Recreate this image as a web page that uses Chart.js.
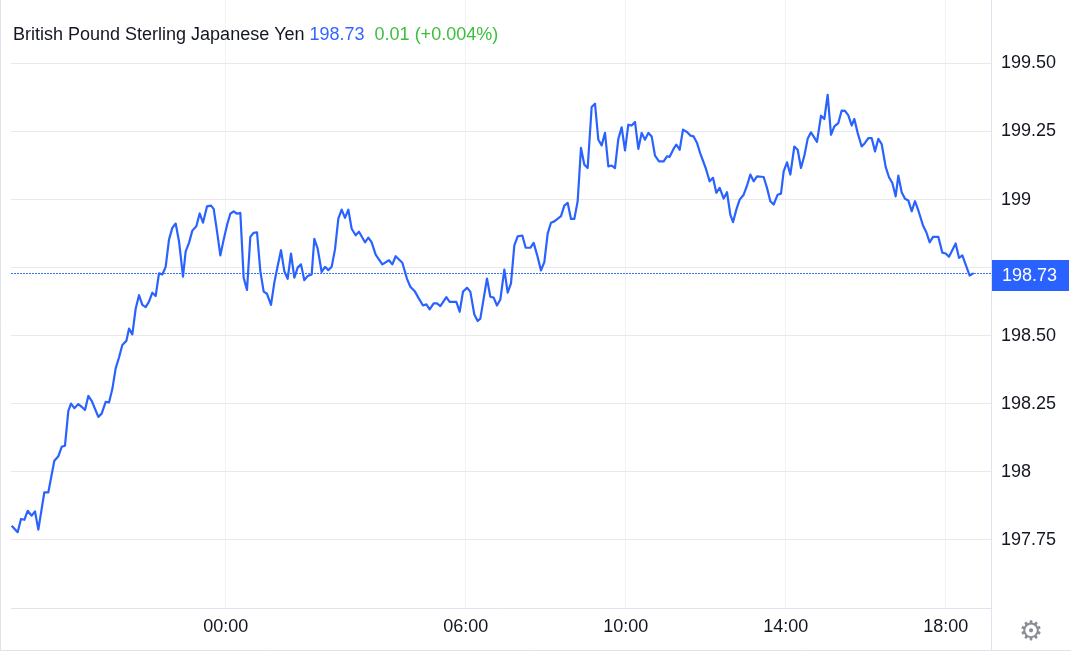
<!DOCTYPE html>
<html lang="en">
<head>
  <meta charset="UTF-8">
  <title>GBP/JPY</title>
  <script src="https://cdn.jsdelivr.net/npm/chart.js"></script>
  <style>
    html, body { margin: 0; padding: 0; background: #fff; }
    #wrap { position: relative; width: 1071px; height: 652px; }
  </style>
</head>
<body>
  <div id="wrap"><canvas id="fxChart" width="1071" height="652"></canvas></div>

  <script>
    // minutes relative to 00:00 (negative = previous evening)
    const minutes = [
      -321, -312, -307, -302, -297, -291, -286, -281, -272, -266,
      -257, -251, -246, -241, -236, -232, -227, -221, -216, -211,
      -206, -201, -191, -186, -180, -175, -170, -165, -160, -155,
      -149, -145, -140, -135, -130, -125, -120, -115, -110, -105,
      -100, -95, -90, -85, -80, -75, -70, -64, -60, -55,
      -50, -44, -39, -34, -28, -22, -18, -13, -8, -3,
      2, 7, 12, 17, 22, 27, 32, 37, 42, 47,
      52, 57, 62, 68, 73, 78, 83, 88, 93, 98,
      103, 108, 113, 118, 123, 129, 133, 138, 144, 149,
      154, 159, 164, 169, 174, 179, 184, 189, 195, 200,
      209, 214, 219, 225, 235, 245, 250, 255, 265, 272,
      277, 284, 289, 296, 301, 306, 312, 317, 322, 331,
      336, 346, 351, 356, 362, 367, 373, 378, 382, 392,
      397, 402, 407, 412, 418, 423, 428, 433, 438, 445,
      450, 457, 462, 467, 473, 478, 483, 488, 493, 503,
      508, 513, 518, 523, 528, 533, 538, 543, 549, 554,
      559, 564, 569, 574, 579, 584, 589, 594, 599, 604,
      609, 614, 619, 624, 629, 634, 639, 644, 650, 657,
      662, 666, 672, 676, 681, 686, 692, 697, 702, 707,
      712, 720, 726, 731, 736, 741, 747, 752, 757, 761,
      766, 771, 777, 782, 787, 792, 797, 807, 812, 817,
      822, 828, 833, 837, 842, 847, 853, 858, 863, 868,
      873, 878, 887, 893, 898, 903, 908, 913, 919, 924,
      929, 934, 939, 943, 948, 954, 959, 964, 969, 974,
      979, 984, 990, 995, 1000, 1005, 1009, 1014, 1019, 1024,
      1029, 1034, 1039, 1046, 1051, 1056, 1061, 1069, 1075, 1080,
      1085, 1095, 1100, 1105, 1116, 1122
    ];

    const prices = [
      197.802, 197.778, 197.827, 197.824, 197.857, 197.839, 197.855, 197.788, 197.925, 197.925,
      198.041, 198.057, 198.092, 198.096, 198.224, 198.251, 198.234, 198.249, 198.239, 198.227,
      198.279, 198.261, 198.202, 198.214, 198.257, 198.255, 198.304, 198.380, 198.420, 198.466,
      198.481, 198.526, 198.505, 198.599, 198.649, 198.613, 198.605, 198.625, 198.658, 198.646,
      198.729, 198.725, 198.753, 198.853, 198.896, 198.912, 198.847, 198.717, 198.810, 198.841,
      198.886, 198.902, 198.949, 198.915, 198.975, 198.978, 198.966, 198.884, 198.795, 198.853,
      198.906, 198.948, 198.957, 198.948, 198.951, 198.713, 198.668, 198.863, 198.878, 198.880,
      198.737, 198.662, 198.654, 198.613, 198.695, 198.756, 198.814, 198.737, 198.709, 198.802,
      198.713, 198.750, 198.762, 198.704, 198.719, 198.725, 198.856, 198.820, 198.734, 198.753,
      198.741, 198.753, 198.817, 198.930, 198.963, 198.933, 198.963, 198.893, 198.869, 198.882,
      198.843, 198.860, 198.843, 198.798, 198.762, 198.777, 198.762, 198.792, 198.768, 198.709,
      198.680, 198.662, 198.640, 198.611, 198.615, 198.597, 198.619, 198.619, 198.609, 198.642,
      198.624, 198.624, 198.588, 198.662, 198.676, 198.662, 198.578, 198.554, 198.563, 198.710,
      198.643, 198.640, 198.611, 198.633, 198.743, 198.658, 198.692, 198.832, 198.865, 198.868,
      198.823, 198.823, 198.841, 198.798, 198.740, 198.770, 198.875, 198.915, 198.920, 198.939,
      198.978, 198.988, 198.929, 198.929, 198.994, 199.190, 199.128, 199.116, 199.340, 199.352,
      199.220, 199.199, 199.245, 199.122, 199.125, 199.116, 199.223, 199.265, 199.181, 199.275,
      199.272, 199.285, 199.186, 199.245, 199.220, 199.245, 199.232, 199.161, 199.140, 199.140,
      199.159, 199.157, 199.187, 199.202, 199.183, 199.257, 199.248, 199.235, 199.232, 199.208,
      199.169, 199.116, 199.067, 199.080, 199.025, 199.043, 199.004, 199.027, 198.945, 198.917,
      198.963, 199.000, 199.018, 199.051, 199.092, 199.067, 199.085, 199.083, 199.043, 198.994,
      198.982, 199.018, 199.022, 199.104, 199.137, 199.092, 199.195, 199.183, 199.116, 199.161,
      199.223, 199.247, 199.212, 199.308, 199.296, 199.385, 199.238, 199.269, 199.281, 199.327,
      199.326, 199.309, 199.272, 199.296, 199.245, 199.195, 199.208, 199.226, 199.226, 199.177,
      199.223, 199.204, 199.120, 199.082, 199.061, 199.012, 199.088, 199.027, 199.003, 198.997,
      198.957, 198.994, 198.960, 198.905, 198.880, 198.843, 198.863, 198.863, 198.805, 198.802,
      198.790, 198.839, 198.786, 198.795, 198.721, 198.730
    ];

    const xTicks = [0, 360, 600, 840, 1080];
    const xTickLabels = ['00:00', '06:00', '10:00', '14:00', '18:00'];
    const yTicks = [197.75, 198, 198.25, 198.5, 198.75, 199, 199.25, 199.5];

    const pairName = 'British Pound Sterling Japanese Yen';
    const lastPrice = '198.73';
    const change = '0.01 (+0.004%)';

    const BLUE = '#2962ff';
    const FONT = "'Liberation Sans', Arial, sans-serif";

    // header text, last-price dotted line and badge, frame, gear
    const overlay = {
      id: 'overlay',
      beforeDatasetsDraw(chart) {
        const { ctx, chartArea, scales } = chart;
        const y = Math.round(scales.y.getPixelForValue(prices[prices.length - 1])) + 0.5;
        ctx.save();
        ctx.strokeStyle = '#3d6fff';
        ctx.lineWidth = 1;
        ctx.setLineDash([2, 1]);
        ctx.beginPath();
        ctx.moveTo(chartArea.left, y);
        ctx.lineTo(chartArea.right, y);
        ctx.stroke();
        ctx.restore();
      },
      afterDraw(chart) {
        const { ctx, chartArea, scales } = chart;
        ctx.save();

        // outer frame (left + bottom) and bottom strip divider
        ctx.strokeStyle = '#e0e3eb';
        ctx.lineWidth = 1;
        ctx.beginPath();
        ctx.moveTo(0.5, 0);
        ctx.lineTo(0.5, 651);
        ctx.moveTo(0, 650.5);
        ctx.lineTo(1071, 650.5);
        ctx.moveTo(chartArea.right + 0.5, chartArea.bottom);
        ctx.lineTo(chartArea.right + 0.5, 650);
        ctx.stroke();

        // header
        ctx.font = '18px ' + FONT;
        ctx.textBaseline = 'alphabetic';
        let x = 13;
        ctx.fillStyle = '#131722';
        ctx.fillText(pairName, x, 40);
        x += ctx.measureText(pairName + ' ').width;
        ctx.fillStyle = '#3366ff';
        ctx.fillText(lastPrice, x, 40);
        x += ctx.measureText(lastPrice + '  ').width;
        ctx.fillStyle = '#3cbf3c';
        ctx.fillText(change, x, 40);

        // last price badge
        const y = Math.round(scales.y.getPixelForValue(prices[prices.length - 1]));
        ctx.fillStyle = BLUE;
        ctx.fillRect(chartArea.right + 1, y - 13, 77, 31);
        ctx.fillStyle = '#ffffff';
        ctx.textBaseline = 'middle';
        ctx.fillText(lastPrice, chartArea.right + 11, y + 3);

        // settings gear
        ctx.fillStyle = '#8a8d96';
        ctx.font = "27px 'DejaVu Sans', sans-serif";
        ctx.textAlign = 'center';
        ctx.textBaseline = 'middle';
        ctx.fillText('\u2699', 1031, 633);
        ctx.restore();
      }
    };

    const ctx = document.getElementById('fxChart').getContext('2d');
    new Chart(ctx, {
      type: 'line',
      data: {
        datasets: [{
          data: minutes.map((m, i) => ({ x: m, y: prices[i] })),
          borderColor: BLUE,
          borderWidth: 2.2,
          pointRadius: 0,
          tension: 0,
          borderJoinStyle: 'round',
          fill: false
        }]
      },
      options: {
        responsive: false,
        animation: false,
        layout: { padding: { left: 11, top: 0, right: 0, bottom: 0 } },
        plugins: {
          legend: { display: false },
          tooltip: { enabled: false }
        },
        scales: {
          x: {
            type: 'linear',
            min: -322,
            max: 1148,
            afterBuildTicks: s => { s.ticks = xTicks.map(v => ({ value: v })); },
            afterFit: s => {
              s.height = 44;
              s.paddingLeft = 0; s.paddingRight = 0;
            },
            grid: { color: '#f0f3f7', drawTicks: false },
            border: { display: true, color: '#e0e3eb' },
            ticks: {
              maxRotation: 0,
              autoSkip: false,
              padding: 8,
              color: '#131722',
              font: { size: 18, family: FONT },
              callback: v => xTickLabels[xTicks.indexOf(v)]
            }
          },
          y: {
            position: 'right',
            min: 197.5,
            max: 199.733,
            afterBuildTicks: s => { s.ticks = yTicks.map(v => ({ value: v })); },
            afterFit: s => {
              s.width = 80;
              s.paddingTop = 0; s.paddingBottom = 0;
            },
            grid: { color: '#e9e9ec', drawTicks: false },
            border: { display: true, color: '#e0e3eb' },
            ticks: {
              padding: 10,
              color: '#131722',
              font: { size: 18, family: FONT },
              callback: v => Number.isInteger(v) ? String(v) : v.toFixed(2)
            }
          }
        }
      },
      plugins: [overlay]
    });
  </script>
</body>
</html>
